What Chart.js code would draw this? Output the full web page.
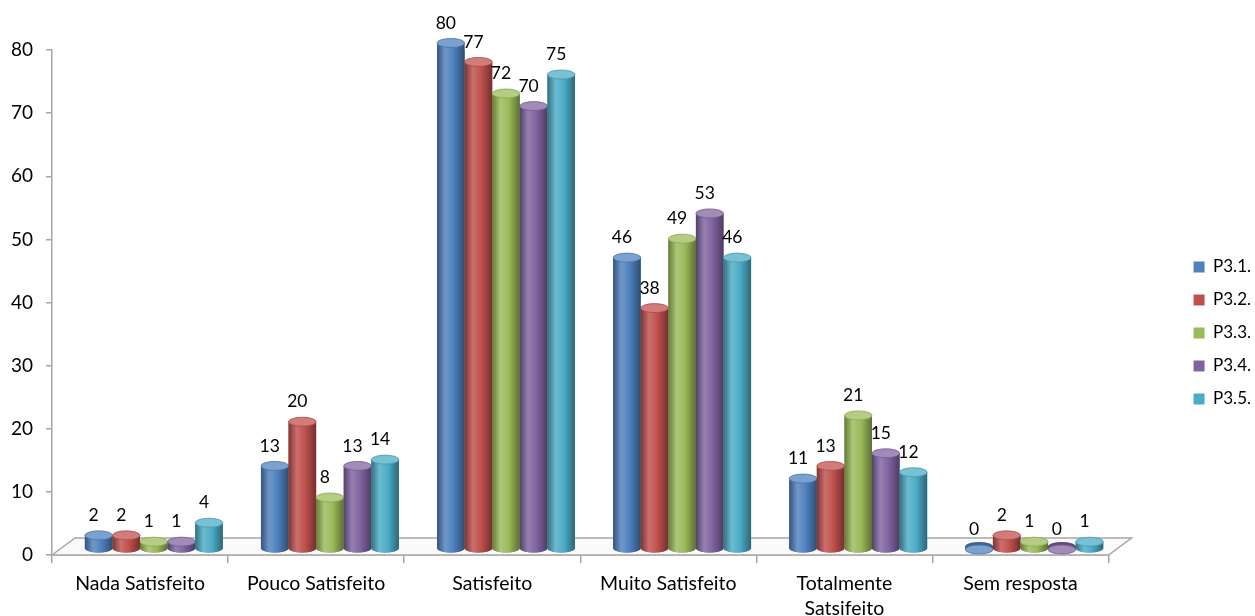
<!DOCTYPE html>
<html><head><meta charset="utf-8">
<script src="https://cdn.jsdelivr.net/npm/chart.js@4.4.1/dist/chart.umd.min.js"></script>
<style>html,body{margin:0;padding:0;background:#fff}#wrap{width:1255px;height:616px}</style>
</head><body><div id="wrap"><canvas id="c"></canvas></div>
<script>
const categories = ['Nada Satisfeito', 'Pouco Satisfeito', 'Satisfeito', 'Muito Satisfeito', ['Totalmente', 'Satsifeito'], 'Sem resposta'];
const seriesNames = ['P3.1.', 'P3.2.', 'P3.3.', 'P3.4.', 'P3.5.'];
const p31 = [2, 13, 80, 46, 11, 0];
const p32 = [2, 20, 77, 38, 13, 2];
const p33 = [1, 8, 72, 49, 21, 1];
const p34 = [1, 13, 70, 53, 15, 0];
const p35 = [4, 14, 75, 46, 12, 1];
const seriesValues = [p31, p32, p33, p34, p35];
const colors = ['#4F81BD', '#C0504D', '#9BBB59', '#8064A2', '#4BACC6'];
const yMin = 0, yMax = 80, yStep = 10;

const FONT = 'Lato, "Open Sans", sans-serif';
const AXIS = '#A6A6A6';

function mix(hex, t, target) {
  const n = parseInt(hex.slice(1), 16);
  const r = (n >> 16) & 255, g = (n >> 8) & 255, b = n & 255;
  const f = c => Math.round(c + (target - c) * t);
  return `rgb(${f(r)},${f(g)},${f(b)})`;
}

// 3D floor drawn behind the bars
const floorPlugin = {
  id: 'floor',
  beforeDatasetsDraw(chart) {
    const { ctx, chartArea: a } = chart;
    const dx = 23, dy = -17;
    ctx.save();
    ctx.beginPath();
    ctx.moveTo(a.left, a.bottom);
    ctx.lineTo(a.left + dx, a.bottom + dy);
    ctx.lineTo(a.right + dx, a.bottom + dy);
    ctx.lineTo(a.right, a.bottom);
    ctx.closePath();
    ctx.fillStyle = '#FAFAFA';
    ctx.fill();
    ctx.strokeStyle = AXIS;
    ctx.lineWidth = 1.5;
    ctx.stroke();
    ctx.restore();
  }
};

// cylinder shading + value labels
const cylPlugin = {
  id: 'cyl',
  afterDatasetsDraw(chart) {
    const { ctx } = chart;
    chart.data.datasets.forEach((ds, di) => {
      if (!ds.seriesIndex && ds.seriesIndex !== 0) return;
      const col = colors[ds.seriesIndex];
      const meta = chart.getDatasetMeta(di);
      meta.data.forEach((el, i) => {
        const { x, y, base, width } = el.getProps(['x', 'y', 'base', 'width'], true);
        const l = x - width / 2, rx = width / 2, ry = 4.5;
        ctx.save();
        ctx.beginPath();
        ctx.ellipse(x, base, rx, ry, 0, 0, Math.PI * 2);
        ctx.fillStyle = mix(col, 0.25, 0);
        ctx.fill();
        const g = ctx.createLinearGradient(l, 0, l + width, 0);
        g.addColorStop(0, mix(col, 0.35, 0));
        g.addColorStop(0.3, mix(col, 0.18, 255));
        g.addColorStop(0.6, col);
        g.addColorStop(1, mix(col, 0.4, 0));
        ctx.beginPath();
        ctx.rect(l, y, width, base - y);
        ctx.fillStyle = g;
        ctx.fill();
        ctx.beginPath();
        ctx.ellipse(x, base, rx, ry, 0, 0, Math.PI);
        ctx.fill();
        ctx.beginPath();
        ctx.ellipse(x, y, rx, ry, 0, 0, Math.PI * 2);
        ctx.fillStyle = mix(col, 0.25, 255);
        ctx.fill();
        ctx.strokeStyle = mix(col, 0.1, 0);
        ctx.lineWidth = 0.8;
        ctx.stroke();
        ctx.fillStyle = '#000';
        ctx.font = '17.5px ' + FONT;
        ctx.textAlign = 'center';
        ctx.textBaseline = 'middle';
        ctx.fillText(String(seriesValues[ds.seriesIndex][i]), x - 5, y - 20);
        ctx.restore();
      });
    });
  }
};

const datasets = [{ label: '', data: [], yAxisID: 'yb', backgroundColor: 'rgba(0,0,0,0)' }]
  .concat(seriesNames.map((name, s) => ({
    label: name,
    seriesIndex: s,
    data: seriesValues[s],
    backgroundColor: colors[s],
    borderWidth: 0,
    yAxisID: 'yb',
    minBarLength: 3
  })));

new Chart(document.getElementById('c'), {
  type: 'bar',
  data: { labels: categories, datasets },
  plugins: [floorPlugin, cylPlugin],
  options: {
    responsive: true,
    maintainAspectRatio: false,
    animation: false,
    categoryPercentage: 0.94,
    barPercentage: 1.0,
    layout: { padding: { top: 50, right: -6, bottom: 0, left: 0 } },
    plugins: {
      tooltip: { enabled: false },
      legend: {
        position: 'right',
        labels: {
          filter: item => item.text !== '',
          boxWidth: 11, boxHeight: 11, padding: 16,
          color: '#000',
          font: { family: FONT, size: 17 }
        }
      }
    },
    scales: {
      x: {
        type: 'category',
        offset: true,
        grid: { display: true, drawOnChartArea: false, offset: true, tickLength: 8, color: AXIS, lineWidth: 1.5 },
        border: { color: AXIS, width: 1.5 },
        ticks: { color: '#000', font: { family: FONT, size: 19.5, lineHeight: 1.28 }, padding: 8, maxRotation: 0, autoSkip: false },
        afterFit: s => { s.height = 61; }
      },
      y: {
        position: 'left',
        min: yMin, max: yMax,
        grid: { display: true, drawOnChartArea: false, tickLength: 6, color: AXIS, lineWidth: 1.5 },
        border: { color: AXIS, width: 1.5 },
        ticks: { stepSize: yStep, color: '#000', font: { family: FONT, size: 19 }, padding: 13 },
        afterFit: s => { s.width = 52; }
      },
      yb: { display: false, min: yMin - 1.11, max: yMax - 1.11 },
      y2: {
        position: 'right',
        display: true,
        grid: { display: false },
        border: { display: false },
        ticks: { display: false },
        afterFit: s => { s.width = 69; }
      }
    }
  }
});
</script>
</body></html>
